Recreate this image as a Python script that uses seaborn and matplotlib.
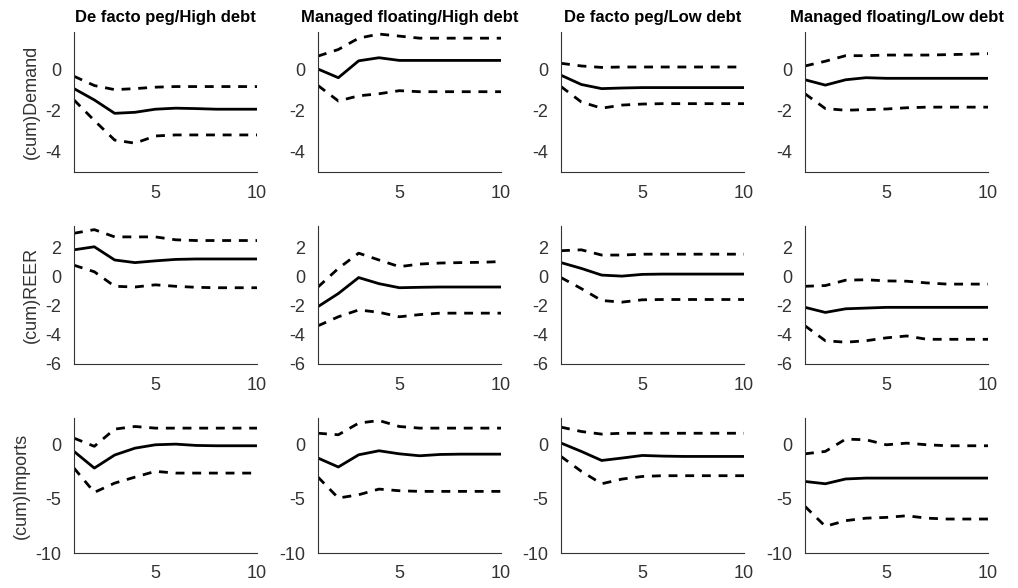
import numpy as np
import pandas as pd
import matplotlib
matplotlib.use("Agg")
import matplotlib.pyplot as plt
import seaborn as sns

sns.set_theme(style="white")
plt.rcParams["font.family"] = ["Liberation Sans", "DejaVu Sans"]
plt.rcParams["axes.unicode_minus"] = False

# ── data ──────────────────────────────────────────────────────
horizon = np.arange(1, 11)
titles = ["De facto peg/High debt", "Managed floating/High debt",
          "De facto peg/Low debt", "Managed floating/Low debt"]
row_labels = ["(cum)Demand", "(cum)REER", "(cum)Imports"]
row_ylims = [(-5, 1.8), (-6, 3.5), (-10, 2.4)]
row_yticks = [[-4, -2, 0], [-6, -4, -2, 0, 2], [-10, -5, 0]]

# Demand
dem_mid = [[-0.95, -1.5, -2.15, -2.1, -1.95, -1.9, -1.92, -1.95, -1.95, -1.95],
           [0.0, -0.42, 0.4, 0.55, 0.42, 0.42, 0.42, 0.42, 0.42, 0.42],
           [-0.3, -0.75, -0.95, -0.92, -0.9, -0.9, -0.9, -0.9, -0.9, -0.9],
           [-0.52, -0.78, -0.52, -0.42, -0.45, -0.45, -0.45, -0.45, -0.45, -0.45]]
dem_up = [[-0.35, -0.8, -1.0, -0.95, -0.88, -0.85, -0.85, -0.85, -0.85, -0.85],
          [0.63, 0.95, 1.5, 1.7, 1.6, 1.5, 1.5, 1.5, 1.5, 1.5],
          [0.28, 0.15, 0.08, 0.1, 0.1, 0.1, 0.1, 0.1, 0.1, 0.1],
          [0.15, 0.38, 0.65, 0.65, 0.68, 0.68, 0.68, 0.7, 0.72, 0.75]]
dem_lo = [[-1.5, -2.5, -3.45, -3.6, -3.25, -3.2, -3.2, -3.2, -3.2, -3.2],
          [-0.8, -1.55, -1.3, -1.2, -1.05, -1.1, -1.1, -1.1, -1.1, -1.1],
          [-0.85, -1.6, -1.9, -1.75, -1.7, -1.68, -1.68, -1.68, -1.68, -1.68],
          [-1.2, -1.92, -2.0, -1.97, -1.94, -1.88, -1.85, -1.85, -1.85, -1.85]]

# REER
reer_mid = [[1.86, 2.07, 1.16, 0.98, 1.1, 1.2, 1.23, 1.23, 1.23, 1.23],
            [-2.05, -1.15, -0.05, -0.47, -0.75, -0.72, -0.7, -0.7, -0.7, -0.7],
            [0.98, 0.58, 0.12, 0.05, 0.17, 0.19, 0.19, 0.19, 0.19, 0.19],
            [-2.1, -2.45, -2.2, -2.15, -2.1, -2.1, -2.1, -2.1, -2.1, -2.1]]
reer_up = [[3.0, 3.25, 2.75, 2.75, 2.75, 2.55, 2.5, 2.5, 2.5, 2.5],
           [-0.7, 0.58, 1.63, 1.16, 0.7, 0.88, 0.95, 0.98, 1.0, 1.05],
           [1.8, 1.86, 1.5, 1.5, 1.56, 1.56, 1.56, 1.56, 1.56, 1.56],
           [-0.65, -0.6, -0.23, -0.2, -0.28, -0.3, -0.42, -0.5, -0.5, -0.5]]
reer_lo = [[0.8, 0.35, -0.65, -0.7, -0.55, -0.65, -0.72, -0.75, -0.75, -0.75],
           [-3.37, -2.75, -2.28, -2.44, -2.75, -2.6, -2.5, -2.5, -2.5, -2.5],
           [-0.05, -0.81, -1.63, -1.74, -1.58, -1.56, -1.56, -1.56, -1.56, -1.56],
           [-3.37, -4.4, -4.5, -4.4, -4.2, -4.07, -4.3, -4.3, -4.3, -4.3]]

# Imports
imp_mid = [[-0.67, -2.2, -1.0, -0.37, -0.06, 0.0, -0.12, -0.15, -0.15, -0.15],
           [-1.28, -2.1, -0.98, -0.61, -0.89, -1.07, -0.95, -0.92, -0.92, -0.92],
           [0.1, -0.67, -1.5, -1.28, -1.04, -1.1, -1.13, -1.13, -1.13, -1.13],
           [-3.43, -3.64, -3.2, -3.12, -3.12, -3.12, -3.12, -3.12, -3.12, -3.12]]
imp_up = [[0.55, -0.2, 1.38, 1.62, 1.47, 1.47, 1.47, 1.47, 1.47, 1.47],
          [1.0, 0.86, 1.93, 2.17, 1.62, 1.47, 1.47, 1.47, 1.47, 1.47],
          [1.56, 1.16, 0.92, 1.0, 1.0, 1.0, 1.0, 1.0, 1.0, 1.0],
          [-0.89, -0.67, 0.46, 0.4, -0.06, 0.09, -0.06, -0.15, -0.15, -0.15]]
imp_lo = [[-2.2, -4.43, -3.58, -3.03, -2.5, -2.66, -2.66, -2.66, -2.66, -2.66],
          [-3.03, -4.95, -4.65, -4.13, -4.28, -4.34, -4.34, -4.34, -4.34, -4.34],
          [-1.13, -2.5, -3.64, -3.21, -2.97, -2.9, -2.9, -2.9, -2.9, -2.9],
          [-5.72, -7.55, -7.03, -6.8, -6.73, -6.58, -6.8, -6.88, -6.88, -6.88]]

mids = [dem_mid, reer_mid, imp_mid]
ups = [dem_up, reer_up, imp_up]
los = [dem_lo, reer_lo, imp_lo]

# ── figure ────────────────────────────────────────────────────
fig = plt.figure(figsize=(10.18, 5.88), dpi=100)
lefts = [74, 318, 561, 805]
rows_px = [(32, 172), (226, 364), (418, 553)]
W, H = 1018, 588
axw = 183
gray = "#333333"

for r in range(3):
    top, bot = rows_px[r]
    for c in range(4):
        ax = fig.add_axes([lefts[c] / W, 1 - bot / H, axw / W, (bot - top) / H])
        df = pd.DataFrame({"h": horizon, "mid": mids[r][c],
                           "up": ups[r][c], "lo": los[r][c]})
        sns.lineplot(data=df, x="h", y="mid", ax=ax, color="black", lw=2.0)
        for col in ["up", "lo"]:
            sns.lineplot(data=df, x="h", y=col, ax=ax, color="black", lw=2.0)
            ax.lines[-1].set_dashes([3.2, 2.8])
        ax.set_xlim(1, 10)
        ax.set_ylim(*row_ylims[r])
        ax.set_xticks([5, 10])
        ax.set_yticks(row_yticks[r])
        ax.set_xlabel("")
        ax.set_ylabel("")
        for s in ["top", "right"]:
            ax.spines[s].set_visible(False)
        for s in ["left", "bottom"]:
            ax.spines[s].set_color(gray)
            ax.spines[s].set_linewidth(0.8)
        ax.tick_params(direction="in", length=2.5, width=0.6, colors=gray,
                       labelsize=13)
        ax.tick_params(axis="x", pad=9)
        ax.tick_params(axis="y", pad=9)
        if r == 0:
            ax.set_title(titles[c], fontsize=12, fontweight="bold",
                         color="black", pad=7)
        if c == 0:
            ax.set_ylabel(row_labels[r], fontsize=13, color=gray, labelpad=4)

fig.savefig("out.png", dpi=100)
